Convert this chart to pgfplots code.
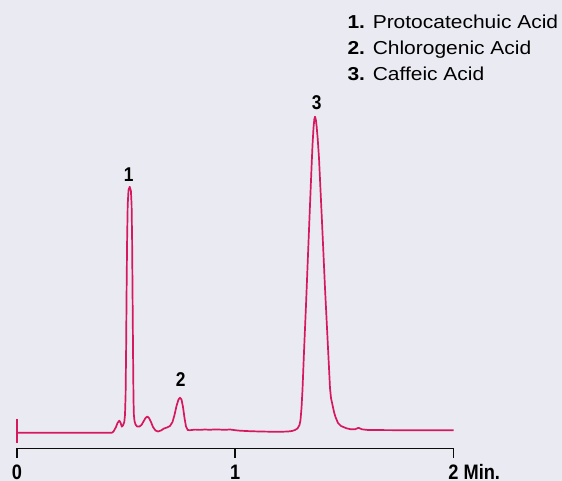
\documentclass[border=0pt]{standalone}
\usepackage{fontspec}
\setmainfont{Liberation Sans}
\newfontfamily\legfont[FakeStretch=1.12]{Liberation Sans}
\newfontfamily\condfont[FakeStretch=0.87]{Liberation Sans}
\usepackage{pgfplots}
\pgfplotsset{compat=1.18}
\usetikzlibrary{backgrounds}
\definecolor{bgcol}{RGB}{234,234,243}
\definecolor{trace}{RGB}{214,24,94}
\definecolor{axiscol}{RGB}{12,12,12}

\begin{document}
\begin{tikzpicture}
\useasboundingbox (0,0) rectangle (562bp,481bp);
\begin{axis}[
  at={(17bp,32.5bp)}, anchor=south west,
  scale only axis, width=436.5bp, height=448.5bp,
  xmin=0, xmax=2, ymin=-15.8, ymax=432.7,
  hide axis, clip=false,
]
\addplot[trace, line width=2bp] coordinates {(0,13.4) (0,-10.6)};
\addplot[trace, line width=1.7bp, line join=round] coordinates {
(0,0) (0.4353,0) (0.4422,1.2) (0.4536,5.7) (0.4605,9.7) (0.4687,12) (0.4742,10.2)
(0.4802,6) (0.4857,7.2) (0.4916,10.7) (0.4948,17.7) (0.4976,37.7) (0.4999,82.7)
(0.5022,142.7) (0.5045,192.7) (0.5072,227.7) (0.5109,242.7) (0.5164,246)
(0.5219,241.7) (0.5251,227.7) (0.5274,192.7) (0.5297,132.7) (0.5320,72.7)
(0.5338,32.7) (0.5356,17.7) (0.5384,11.7) (0.5430,8.2) (0.5498,6.2) (0.5613,6.2)
(0.5704,7.7) (0.5796,11.2) (0.5888,14.7) (0.5970,16.2) (0.6048,14.7) (0.6140,10.7)
(0.6231,5.7) (0.6346,2.2) (0.6460,1.2) (0.6598,2.2) (0.6735,4.2) (0.6873,5.2)
(0.7010,6.7) (0.7125,10.7) (0.7216,17.7) (0.7308,26.7) (0.7400,33.2) (0.7468,35)
(0.7537,33.2) (0.7606,25.7) (0.7675,14.7) (0.7743,6.2) (0.7821,2.7) (0.7927,2.5)
(0.8156,3.1) (0.8385,2.8) (0.8614,3.2) (0.8843,2.9) (0.9072,3.3) (0.9301,3.1)
(0.9530,2.9) (0.9759,3.2) (0.9989,2.5) (1.0218,2) (1.0676,1.5) (1.1134,1.2)
(1.1592,1) (1.2050,0.9) (1.2417,1.2) (1.2600,1.7) (1.2738,2.7) (1.2852,4.2)
(1.2944,7.7) (1.2990,12.7) (1.3036,24.7) (1.3081,42.7) (1.3150,80.7) (1.3242,127.7)
(1.3333,177.7) (1.3425,227.7) (1.3494,264.7) (1.3540,287.7) (1.3585,304.7)
(1.3622,313.2) (1.3654,316) (1.3691,313.2) (1.3732,305.7) (1.3782,292.7)
(1.3837,274.7) (1.3906,242.7) (1.3975,210.7) (1.4044,177.7) (1.4112,144.7)
(1.4181,114.7) (1.4250,84.7) (1.4296,64.7) (1.4341,44.7) (1.4387,34.7)
(1.4456,27.7) (1.4525,20.7) (1.4593,15.7) (1.4708,9.7) (1.4845,6.7) (1.5097,4.4)
(1.5304,3.4) (1.5487,3.4) (1.5647,4.9) (1.5808,3.4) (1.6082,2.7) (1.7549,2.5)
(2.0,2.4)
};
% time axis with ticks at 0, 1, 2 min
\fill[axiscol] (axis cs:-0.004,-16.7) rectangle (axis cs:2.004,-14.9);
\fill[axiscol] (axis cs:-0.004,-25.6) rectangle (axis cs:0.004,-14.9);
\fill[axiscol] (axis cs:0.996,-25.6) rectangle (axis cs:1.004,-14.9);
\fill[axiscol] (axis cs:1.996,-25.6) rectangle (axis cs:2.004,-14.9);
\begin{scope}[every node/.style={font=\condfont\bfseries\fontsize{21}{21}\selectfont, anchor=base, inner sep=0pt}]
\node at (axis cs:0,-46.8) {0};
\node at (axis cs:1,-46.8) {1};
\node at (axis cs:2,-46.8) {2\rlap{ Min.}};
\end{scope}
\begin{scope}[every node/.style={font=\condfont\bfseries\fontsize{20}{20}\selectfont, anchor=base, inner sep=0pt}]
\node at (axis cs:0.5118,250.7) {1};
\node at (axis cs:0.7501,46) {2};
\node at (axis cs:1.3732,322.7) {3};
\end{scope}
\end{axis}
\begin{scope}[every node/.style={anchor=base west, inner sep=0pt, font=\legfont\fontsize{18.8}{18.8}\selectfont}]
\node at (347.3bp,452.7bp) {\textbf{1.} Protocatechuic Acid};
\node at (347.3bp,426.5bp) {\textbf{2.} Chlorogenic Acid};
\node at (347.3bp,400.5bp) {\textbf{3.} Caffeic Acid};
\end{scope}
\begin{scope}[on background layer]
\fill[bgcol] (0,0) rectangle (562bp,481bp);
\end{scope}
\end{tikzpicture}
\end{document}
